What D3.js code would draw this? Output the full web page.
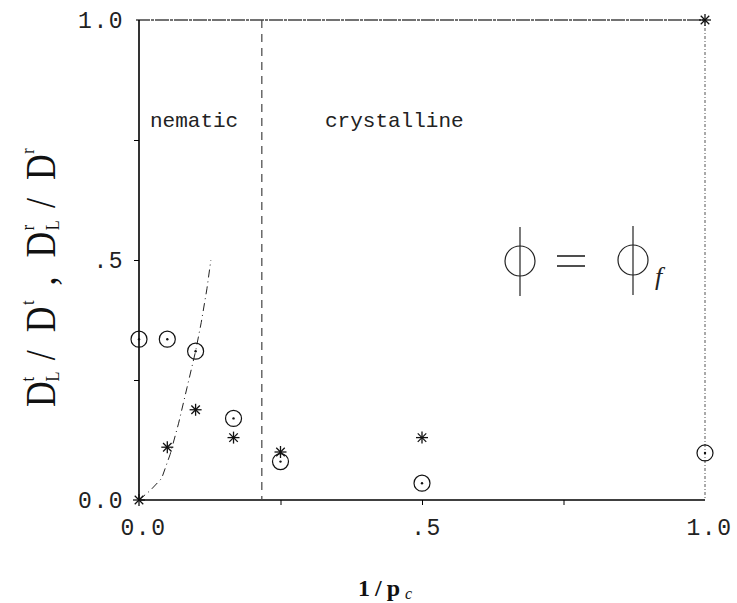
<!DOCTYPE html>
<html>
<head>
<meta charset="utf-8">
<script src="https://cdn.jsdelivr.net/npm/d3@7"></script>
<style>
  body { margin: 0; background: #fff; }
  svg { display: block; }
</style>
</head>
<body>
<div id="chart"></div>
<script>
// data
const circlePoints = [
    [0.0, 0.335], [0.05, 0.335], [0.1, 0.31], [0.167, 0.17],
    [0.25, 0.08], [0.5, 0.035], [1.0, 0.098]
];
const starPoints = [
    [0.0, 0.0], [0.05, 0.11], [0.1, 0.188], [0.167, 0.13],
    [0.25, 0.1], [0.5, 0.13], [1.0, 1.0]
];
const fitCurve = [
    [0.0, 0.0], [0.02, 0.02], [0.04, 0.045], [0.055, 0.095], [0.07, 0.16],
    [0.085, 0.235], [0.1, 0.31], [0.11, 0.37], [0.12, 0.44], [0.127, 0.5]
];
const phaseBoundary = 0.217;
const tickValues = [0, 0.25, 0.5, 0.75, 1];
const xTickLabels = { 0: "0.0", 0.5: ".5", 1: "1.0" };
const yTickLabels = { 0: "0.0", 0.5: ".5", 1: "1.0" };

const width = 737;
const height = 603;
const marginLeft = 139;
const marginRight = 32;
const marginTop = 20;
const marginBottom = 103;

const monoFont = "'Liberation Mono', 'Courier New', monospace";
const serifFont = "'Liberation Serif', 'Times New Roman', serif";

const x = d3.scaleLinear().domain([0, 1]).range([marginLeft, width - marginRight]);
const y = d3.scaleLinear().domain([0, 1]).range([height - marginBottom, marginTop]);

const svg = d3.select("#chart")
    .append("svg")
    .attr("width", width)
    .attr("height", height);

// frame: top and right are faint broken lines
svg.append("line")
    .attr("x1", x(0) - 3).attr("x2", x(1))
    .attr("y1", y(1)).attr("y2", y(1))
    .attr("stroke", "#444").attr("stroke-width", 1.3)
    .attr("stroke-dasharray", "14,1,3,1");
svg.append("line")
    .attr("x1", x(1)).attr("x2", x(1))
    .attr("y1", y(1)).attr("y2", y(0))
    .attr("stroke", "#555").attr("stroke-width", 1)
    .attr("stroke-dasharray", "3,2,1,2");

// axes
const xAxis = svg.append("g")
    .attr("transform", `translate(0,${y(0)})`)
    .call(d3.axisBottom(x).tickValues(tickValues).tickSize(5).tickFormat(d => xTickLabels[d] || ""));
xAxis.select(".domain").attr("stroke-width", 1.6).attr("d", `M${x(0)},0H${x(1)}`);
xAxis.selectAll(".tick line").attr("stroke-width", 1);
xAxis.selectAll(".tick").filter(d => d === 0 || d === 1).select("line").remove();
xAxis.selectAll("text")
    .attr("font-family", monoFont)
    .attr("font-size", 23)
    .attr("letter-spacing", 1.5)
    .attr("dx", 4)
    .attr("y", 19)
    .attr("fill", "#222");

const yAxis = svg.append("g")
    .attr("transform", `translate(${x(0)},0)`)
    .call(d3.axisLeft(y).tickValues(tickValues).tickSize(5).tickFormat(d => yTickLabels[d] || ""));
yAxis.select(".domain").attr("stroke-width", 1.6).attr("d", `M0,${y(0)}V${y(1)}`);
yAxis.selectAll(".tick").filter(d => d === 0 || d === 1).select("line").remove();
yAxis.selectAll("text")
    .attr("font-family", monoFont)
    .attr("font-size", 23)
    .attr("letter-spacing", 1.5)
    .attr("x", -15)
    .attr("fill", "#222");

// phase boundary
svg.append("line")
    .attr("x1", x(phaseBoundary)).attr("x2", x(phaseBoundary))
    .attr("y1", y(1)).attr("y2", y(0))
    .attr("stroke", "#444").attr("stroke-width", 1.2)
    .attr("stroke-dasharray", "8,6");

// phase labels
svg.append("text")
    .attr("x", 150).attr("y", 127)
    .attr("font-family", monoFont).attr("font-size", 21)
    .attr("fill", "#222")
    .text("nematic");
svg.append("text")
    .attr("x", 325).attr("y", 127)
    .attr("font-family", monoFont).attr("font-size", 21)
    .attr("fill", "#222")
    .text("crystalline");

// dash-dot fit
svg.append("path")
    .datum(fitCurve)
    .attr("fill", "none")
    .attr("stroke", "#222")
    .attr("stroke-width", 1)
    .attr("stroke-dasharray", "8,4,1,4")
    .attr("d", d3.line().x(d => x(d[0])).y(d => y(d[1])));

// circle-with-dot markers
const circ = svg.append("g")
    .selectAll("g")
    .data(circlePoints)
    .enter()
    .append("g")
    .attr("transform", d => `translate(${x(d[0])},${y(d[1])})`);
circ.append("circle")
    .attr("r", 8)
    .attr("fill", "none")
    .attr("stroke", "#111")
    .attr("stroke-width", 1.2);
circ.append("circle")
    .attr("r", 1.2)
    .attr("fill", "#111");

// asterisk markers
const star = svg.append("g")
    .selectAll("g")
    .data(starPoints)
    .enter()
    .append("g")
    .attr("transform", d => `translate(${x(d[0])},${y(d[1])})`);
[0, 45, 90, 135].forEach(a => {
    star.append("line")
        .attr("x1", -6).attr("x2", 6)
        .attr("y1", 0).attr("y2", 0)
        .attr("transform", `rotate(${a})`)
        .attr("stroke", "#111")
        .attr("stroke-width", 1.3);
});

// legend: phi = phi_f
const legend = svg.append("g");
[[520, 261], [633, 260]].forEach(([cx, cy]) => {
    legend.append("circle")
        .attr("cx", cx).attr("cy", cy).attr("r", 15)
        .attr("fill", "none").attr("stroke", "#222").attr("stroke-width", 1.2);
    legend.append("line")
        .attr("x1", cx).attr("x2", cx)
        .attr("y1", cy - 34).attr("y2", cy + 35)
        .attr("stroke", "#222").attr("stroke-width", 1.2);
});
[256, 266].forEach(ly => {
    legend.append("line")
        .attr("x1", 557).attr("x2", 585)
        .attr("y1", ly).attr("y2", ly)
        .attr("stroke", "#222").attr("stroke-width", 1.6);
});
legend.append("text")
    .attr("x", 655).attr("y", 285)
    .attr("font-family", serifFont).attr("font-style", "italic")
    .attr("font-size", 26)
    .attr("fill", "#222")
    .text("f");

// x label
const xl = svg.append("text")
    .attr("x", 358).attr("y", 596)
    .attr("font-family", serifFont)
    .attr("font-size", 24)
    .attr("font-weight", "bold")
    .attr("fill", "#111");
xl.append("tspan").attr("letter-spacing", 5).text("1/p");
xl.append("tspan")
    .attr("font-size", 16).attr("font-style", "italic").attr("font-weight", "normal")
    .attr("dx", 0).attr("dy", 3).text("c");

// y label: D_L^t/D^t , D_L^r/D^r
const yl = svg.append("g")
    .attr("transform", "translate(55,407) rotate(-90) scale(0.85,1)")
    .attr("font-family", serifFont)
    .attr("fill", "#111");
const bigParts = [["D", 0], ["/", 55], ["D", 88], [",", 143], ["D", 176], ["/", 234], ["D", 267]];
const supParts = [["t", 30], ["t", 120], ["r", 208], ["r", 298]];
const subParts = [["L", 30], ["L", 208]];
bigParts.forEach(([t, px]) => {
    yl.append("text").attr("x", px).attr("y", 0)
        .attr("font-size", 42).text(t);
});
supParts.forEach(([t, px]) => {
    yl.append("text").attr("x", px).attr("y", -21)
        .attr("font-size", 19).text(t);
});
subParts.forEach(([t, px]) => {
    yl.append("text").attr("x", px).attr("y", 4)
        .attr("font-size", 19).text(t);
});
</script>
</body>
</html>
